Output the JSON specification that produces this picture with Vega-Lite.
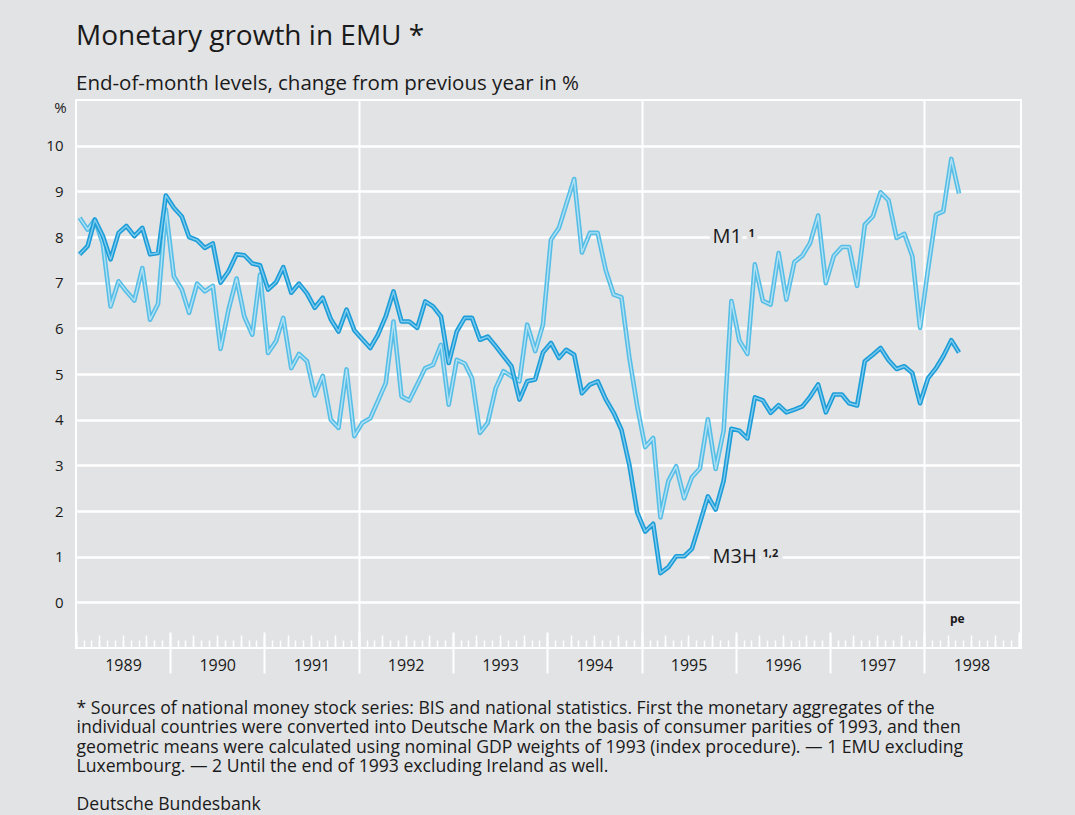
{
  "$schema": "https://vega.github.io/schema/vega-lite/v6.json",
  "autosize": "none",
  "width": 945,
  "height": 548,
  "padding": {"left": 76, "top": 100, "right": 54, "bottom": 167},
  "background": "#e2e3e5",
  "config": {
    "view": {"stroke": "white", "strokeWidth": 2},
    "font": "Open Sans"
  },
  "title": {
    "text": "Monetary growth in EMU *",
    "subtitle": "End-of-month levels, change from previous year in %",
    "anchor": "start",
    "frame": "group",
    "font": "Open Sans",
    "fontSize": 28,
    "fontWeight": "normal",
    "color": "#1a1a1a",
    "subtitleFont": "Open Sans",
    "subtitleFontSize": 20.5,
    "subtitleColor": "#1a1a1a",
    "subtitlePadding": 23,
    "offset": 6
  },
  "datasets": {
    "money": [
      {"date": "1989-01-15", "M1": 8.42, "M3H": 7.62},
      {"date": "1989-02-15", "M1": 8.16, "M3H": 7.8},
      {"date": "1989-03-15", "M1": 8.38, "M3H": 8.38},
      {"date": "1989-04-15", "M1": 7.85, "M3H": 8.02},
      {"date": "1989-05-15", "M1": 6.48, "M3H": 7.51},
      {"date": "1989-06-15", "M1": 7.03, "M3H": 8.09},
      {"date": "1989-07-15", "M1": 6.81, "M3H": 8.24},
      {"date": "1989-08-15", "M1": 6.61, "M3H": 8.02},
      {"date": "1989-09-15", "M1": 7.32, "M3H": 8.2},
      {"date": "1989-10-15", "M1": 6.19, "M3H": 7.62},
      {"date": "1989-11-15", "M1": 6.54, "M3H": 7.65},
      {"date": "1989-12-15", "M1": 8.6, "M3H": 8.91},
      {"date": "1990-01-15", "M1": 7.14, "M3H": 8.64},
      {"date": "1990-02-15", "M1": 6.85, "M3H": 8.45},
      {"date": "1990-03-15", "M1": 6.34, "M3H": 8.0},
      {"date": "1990-04-15", "M1": 6.98, "M3H": 7.93},
      {"date": "1990-05-15", "M1": 6.81, "M3H": 7.76},
      {"date": "1990-06-15", "M1": 6.93, "M3H": 7.86},
      {"date": "1990-07-15", "M1": 5.55, "M3H": 7.0},
      {"date": "1990-08-15", "M1": 6.41, "M3H": 7.25},
      {"date": "1990-09-15", "M1": 7.09, "M3H": 7.62},
      {"date": "1990-10-15", "M1": 6.26, "M3H": 7.6},
      {"date": "1990-11-15", "M1": 5.86, "M3H": 7.42},
      {"date": "1990-12-15", "M1": 7.18, "M3H": 7.38},
      {"date": "1991-01-15", "M1": 5.46, "M3H": 6.85},
      {"date": "1991-02-15", "M1": 5.72, "M3H": 7.01},
      {"date": "1991-03-15", "M1": 6.23, "M3H": 7.34},
      {"date": "1991-04-15", "M1": 5.13, "M3H": 6.78},
      {"date": "1991-05-15", "M1": 5.44, "M3H": 6.98},
      {"date": "1991-06-15", "M1": 5.28, "M3H": 6.76},
      {"date": "1991-07-15", "M1": 4.53, "M3H": 6.45},
      {"date": "1991-08-15", "M1": 4.96, "M3H": 6.67},
      {"date": "1991-09-15", "M1": 4.0, "M3H": 6.2},
      {"date": "1991-10-15", "M1": 3.82, "M3H": 5.93},
      {"date": "1991-11-15", "M1": 5.1, "M3H": 6.41},
      {"date": "1991-12-15", "M1": 3.64, "M3H": 5.96},
      {"date": "1992-01-15", "M1": 3.93, "M3H": 5.76},
      {"date": "1992-02-15", "M1": 4.03, "M3H": 5.57},
      {"date": "1992-03-15", "M1": 4.4, "M3H": 5.85},
      {"date": "1992-04-15", "M1": 4.8, "M3H": 6.26},
      {"date": "1992-05-15", "M1": 6.15, "M3H": 6.81},
      {"date": "1992-06-15", "M1": 4.51, "M3H": 6.15},
      {"date": "1992-07-15", "M1": 4.42, "M3H": 6.15},
      {"date": "1992-08-15", "M1": 4.77, "M3H": 6.01},
      {"date": "1992-09-15", "M1": 5.13, "M3H": 6.59},
      {"date": "1992-10-15", "M1": 5.2, "M3H": 6.48},
      {"date": "1992-11-15", "M1": 5.64, "M3H": 6.26},
      {"date": "1992-12-15", "M1": 4.33, "M3H": 5.24},
      {"date": "1993-01-15", "M1": 5.31, "M3H": 5.93},
      {"date": "1993-02-15", "M1": 5.23, "M3H": 6.23},
      {"date": "1993-03-15", "M1": 4.91, "M3H": 6.23},
      {"date": "1993-04-15", "M1": 3.71, "M3H": 5.75},
      {"date": "1993-05-15", "M1": 3.93, "M3H": 5.82},
      {"date": "1993-06-15", "M1": 4.69, "M3H": 5.61},
      {"date": "1993-07-15", "M1": 5.06, "M3H": 5.39},
      {"date": "1993-08-15", "M1": 4.95, "M3H": 5.17},
      {"date": "1993-09-15", "M1": 4.84, "M3H": 4.44},
      {"date": "1993-10-15", "M1": 6.08, "M3H": 4.84},
      {"date": "1993-11-15", "M1": 5.5, "M3H": 4.88},
      {"date": "1993-12-15", "M1": 6.08, "M3H": 5.47},
      {"date": "1994-01-15", "M1": 7.94, "M3H": 5.68},
      {"date": "1994-02-15", "M1": 8.2, "M3H": 5.35},
      {"date": "1994-03-15", "M1": 8.71, "M3H": 5.53},
      {"date": "1994-04-15", "M1": 9.27, "M3H": 5.42},
      {"date": "1994-05-15", "M1": 7.66, "M3H": 4.58},
      {"date": "1994-06-15", "M1": 8.09, "M3H": 4.77},
      {"date": "1994-07-15", "M1": 8.09, "M3H": 4.84},
      {"date": "1994-08-15", "M1": 7.28, "M3H": 4.45},
      {"date": "1994-09-15", "M1": 6.74, "M3H": 4.15},
      {"date": "1994-10-15", "M1": 6.68, "M3H": 3.78},
      {"date": "1994-11-15", "M1": 5.35, "M3H": 3.0},
      {"date": "1994-12-15", "M1": 4.3, "M3H": 1.97},
      {"date": "1995-01-15", "M1": 3.4, "M3H": 1.55},
      {"date": "1995-02-15", "M1": 3.6, "M3H": 1.72},
      {"date": "1995-03-15", "M1": 1.86, "M3H": 0.64},
      {"date": "1995-04-15", "M1": 2.66, "M3H": 0.77},
      {"date": "1995-05-15", "M1": 2.98, "M3H": 1.01},
      {"date": "1995-06-15", "M1": 2.28, "M3H": 1.01},
      {"date": "1995-07-15", "M1": 2.74, "M3H": 1.17},
      {"date": "1995-08-15", "M1": 2.93, "M3H": 1.74},
      {"date": "1995-09-15", "M1": 4.01, "M3H": 2.32},
      {"date": "1995-10-15", "M1": 2.92, "M3H": 2.03},
      {"date": "1995-11-15", "M1": 3.76, "M3H": 2.66},
      {"date": "1995-12-15", "M1": 6.6, "M3H": 3.8},
      {"date": "1996-01-15", "M1": 5.73, "M3H": 3.76},
      {"date": "1996-02-15", "M1": 5.44, "M3H": 3.59},
      {"date": "1996-03-15", "M1": 7.4, "M3H": 4.49},
      {"date": "1996-04-15", "M1": 6.6, "M3H": 4.42},
      {"date": "1996-05-15", "M1": 6.52, "M3H": 4.15},
      {"date": "1996-06-15", "M1": 7.65, "M3H": 4.32},
      {"date": "1996-07-15", "M1": 6.63, "M3H": 4.16},
      {"date": "1996-08-15", "M1": 7.45, "M3H": 4.22},
      {"date": "1996-09-15", "M1": 7.59, "M3H": 4.29},
      {"date": "1996-10-15", "M1": 7.87, "M3H": 4.5},
      {"date": "1996-11-15", "M1": 8.47, "M3H": 4.77},
      {"date": "1996-12-15", "M1": 6.99, "M3H": 4.16},
      {"date": "1997-01-15", "M1": 7.59, "M3H": 4.55},
      {"date": "1997-02-15", "M1": 7.78, "M3H": 4.55},
      {"date": "1997-03-15", "M1": 7.78, "M3H": 4.36},
      {"date": "1997-04-15", "M1": 6.93, "M3H": 4.31},
      {"date": "1997-05-15", "M1": 8.27, "M3H": 5.28},
      {"date": "1997-06-15", "M1": 8.45, "M3H": 5.42},
      {"date": "1997-07-15", "M1": 8.98, "M3H": 5.57},
      {"date": "1997-08-15", "M1": 8.8, "M3H": 5.3},
      {"date": "1997-09-15", "M1": 7.98, "M3H": 5.11},
      {"date": "1997-10-15", "M1": 8.07, "M3H": 5.17},
      {"date": "1997-11-15", "M1": 7.58, "M3H": 5.02},
      {"date": "1997-12-15", "M1": 6.01, "M3H": 4.36},
      {"date": "1998-01-15", "M1": 7.3, "M3H": 4.91},
      {"date": "1998-02-15", "M1": 8.49, "M3H": 5.13},
      {"date": "1998-03-15", "M1": 8.56, "M3H": 5.39},
      {"date": "1998-04-15", "M1": 9.71, "M3H": 5.74},
      {"date": "1998-05-15", "M1": 8.95, "M3H": 5.47}
    ],
    "labels": [
      {"date": "1995-10-03", "value": 8, "name": "M1", "note": "1"},
      {"date": "1995-10-03", "value": 1, "name": "M3H", "note": "1,2"}
    ],
    "marker": [
      {"date": "1998-05-08", "value": -0.37, "name": "pe"}
    ]
  },
  "resolve": {"axis": {"x": "independent"}},
  "encoding": {
    "x": {
      "field": "date", "type": "temporal",
      "scale": {"type": "utc", "domain": [{"year": 1989, "month": 1, "date": 1, "utc": true}, {"year": 1999, "month": 1, "date": 10, "utc": true}]},
      "axis": null
    },
    "y": {
      "field": "value", "type": "quantitative",
      "scale": {"domain": [-1, 11], "nice": false, "zero": false},
      "axis": {
        "values": [0, 1, 2, 3, 4, 5, 6, 7, 8, 9, 10],
        "grid": true, "gridColor": "white", "gridWidth": 2.5,
        "ticks": false, "domain": false,
        "labelFont": "Open Sans", "labelFontSize": 15, "labelColor": "#1a1a1a", "labelPadding": 13,
        "title": "%", "titleAngle": 0, "titleX": -16, "titleY": 7,
        "titleAlign": "center", "titleBaseline": "middle",
        "titleFont": "Open Sans", "titleFontSize": 15, "titleFontWeight": "normal", "titleColor": "#1a1a1a"
      }
    }
  },
  "layer": [
    {
      "data": {"name": "money"},
      "transform": [{"fold": ["M1", "M3H"], "as": ["series", "value"]}, {"filter": "datum.series == 'M1'"}],
      "mark": {"type": "line", "color": "#56bee6", "strokeWidth": 4.6, "strokeJoin": "round"},
      "encoding": {
        "x": {
          "field": "date", "type": "temporal",
          "scale": {"type": "utc", "domain": [{"year": 1989, "month": 1, "date": 1, "utc": true}, {"year": 1999, "month": 1, "date": 10, "utc": true}]},
          "axis": {
            "orient": "bottom",
            "values": [
              {"year": 1989, "month": 1, "date": 1, "utc": true},
              {"year": 1990, "month": 1, "date": 1, "utc": true},
              {"year": 1991, "month": 1, "date": 1, "utc": true},
              {"year": 1992, "month": 1, "date": 1, "utc": true},
              {"year": 1993, "month": 1, "date": 1, "utc": true},
              {"year": 1994, "month": 1, "date": 1, "utc": true},
              {"year": 1995, "month": 1, "date": 1, "utc": true},
              {"year": 1996, "month": 1, "date": 1, "utc": true},
              {"year": 1997, "month": 1, "date": 1, "utc": true},
              {"year": 1998, "month": 1, "date": 1, "utc": true}
            ],
            "labelExpr": "utcFormat(datum.value, '%Y')",
            "labelOffset": 47, "labelFont": "Open Sans", "labelFontSize": 16, "labelColor": "#1a1a1a",
            "labelBaseline": "middle", "labelPadding": -8, "labelOverlap": false, "labelBound": false, "labelFlush": false,
            "ticks": true, "tickSize": 25, "tickWidth": 2, "tickColor": "white",
            "tickOpacity": {"condition": {"test": "utcyear(datum.value) == 1989", "value": 0}, "value": 1},
            "grid": true, "gridColor": "white", "gridWidth": 2,
            "gridOpacity": {"condition": {"test": "indexof([1992, 1995, 1998], utcyear(datum.value)) >= 0", "value": 1}, "value": 0},
            "domain": false,
            "title": [
              "* Sources of national money stock series: BIS and national statistics. First the monetary aggregates of the",
              "individual countries were converted into Deutsche Mark on the basis of consumer parities of 1993, and then",
              "geometric means were calculated using nominal GDP weights of 1993 (index procedure). — 1 EMU excluding",
              "Luxembourg. — 2 Until the end of 1993 excluding Ireland as well."
            ],
            "titleX": 0, "titleY": 65, "titleAlign": "left", "titleAnchor": "start", "titleBaseline": "alphabetic",
            "titleFont": "Open Sans", "titleFontSize": 17.6, "titleFontWeight": "normal", "titleColor": "#1a1a1a", "titleLineHeight": 19.6
          }
        }
      }
    },
    {
      "data": {"name": "money"},
      "transform": [{"fold": ["M1", "M3H"], "as": ["series", "value"]}, {"filter": "datum.series == 'M1'"}],
      "mark": {"type": "line", "color": "#b3e1f4", "strokeWidth": 1.4, "strokeJoin": "round"},
      "encoding": {
        "x": {
          "field": "date", "type": "temporal",
          "scale": {"type": "utc", "domain": [{"year": 1989, "month": 1, "date": 1, "utc": true}, {"year": 1999, "month": 1, "date": 10, "utc": true}]},
          "axis": {
            "orient": "bottom",
            "tickCount": {"interval": "month", "step": 1},
            "labels": false, "domain": false, "grid": false,
            "ticks": true, "tickSize": -8, "tickWidth": 1.5, "tickColor": "white",
            "title": "Deutsche Bundesbank",
            "titleX": 0, "titleY": 161, "titleAlign": "left", "titleAnchor": "start", "titleBaseline": "alphabetic",
            "titleFont": "Open Sans", "titleFontSize": 17.6, "titleFontWeight": "normal", "titleColor": "#1a1a1a"
          }
        }
      }
    },
    {
      "data": {"name": "money"},
      "transform": [{"fold": ["M1", "M3H"], "as": ["series", "value"]}, {"filter": "datum.series == 'M3H'"}],
      "mark": {"type": "line", "color": "#1d9dd8", "strokeWidth": 4.6, "strokeJoin": "round"},
      "encoding": {
        "x": {
          "field": "date", "type": "temporal",
          "scale": {"type": "utc", "domain": [{"year": 1989, "month": 1, "date": 1, "utc": true}, {"year": 1999, "month": 1, "date": 10, "utc": true}]},
          "axis": {
            "orient": "bottom",
            "tickCount": {"interval": "month", "step": 3},
            "labels": false, "domain": false, "grid": false,
            "ticks": true, "tickSize": -13, "tickWidth": 1.5, "tickColor": "white",
            "title": null
          }
        }
      }
    },
    {
      "data": {"name": "money"},
      "transform": [{"fold": ["M1", "M3H"], "as": ["series", "value"]}, {"filter": "datum.series == 'M3H'"}],
      "mark": {"type": "line", "color": "#7fcbee", "strokeWidth": 1.4, "strokeJoin": "round"},
      "encoding": {
        "x": {
          "field": "date", "type": "temporal",
          "scale": {"type": "utc", "domain": [{"year": 1989, "month": 1, "date": 1, "utc": true}, {"year": 1999, "month": 1, "date": 10, "utc": true}]},
          "axis": {
            "orient": "bottom",
            "tickCount": {"interval": "year", "step": 1},
            "labels": false, "domain": false, "grid": false,
            "ticks": true, "tickSize": -16, "tickWidth": 2, "tickColor": "white",
            "title": null
          }
        }
      }
    },
    {
      "data": {"name": "labels"},
      "mark": {"type": "text", "align": "left", "baseline": "middle", "font": "Open Sans", "fontSize": 20, "fill": "#e2e3e5", "stroke": "#e2e3e5", "strokeWidth": 9, "strokeJoin": "round"},
      "encoding": {"text": {"field": "name"}}
    },
    {
      "data": {"name": "labels"},
      "mark": {"type": "text", "align": "left", "baseline": "middle", "font": "Open Sans", "fontSize": 20, "color": "#1a1a1a"},
      "encoding": {"text": {"field": "name"}}
    },
    {
      "data": {"name": "labels"},
      "transform": [{"filter": "datum.name == 'M1'"}],
      "mark": {"type": "text", "align": "left", "baseline": "alphabetic", "dx": 36, "font": "Open Sans", "fontSize": 11, "fontWeight": "bold", "fill": "#e2e3e5", "stroke": "#e2e3e5", "strokeWidth": 9, "strokeJoin": "round"},
      "encoding": {"text": {"field": "note"}}
    },
    {
      "data": {"name": "labels"},
      "transform": [{"filter": "datum.name == 'M1'"}],
      "mark": {"type": "text", "align": "left", "baseline": "alphabetic", "dx": 36, "font": "Open Sans", "fontSize": 11, "fontWeight": "bold", "color": "#1a1a1a"},
      "encoding": {"text": {"field": "note"}}
    },
    {
      "data": {"name": "labels"},
      "transform": [{"filter": "datum.name == 'M3H'"}],
      "mark": {"type": "text", "align": "left", "baseline": "alphabetic", "dx": 50, "font": "Open Sans", "fontSize": 11, "fontWeight": "bold", "fill": "#e2e3e5", "stroke": "#e2e3e5", "strokeWidth": 9, "strokeJoin": "round"},
      "encoding": {"text": {"field": "note"}}
    },
    {
      "data": {"name": "labels"},
      "transform": [{"filter": "datum.name == 'M3H'"}],
      "mark": {"type": "text", "align": "left", "baseline": "alphabetic", "dx": 50, "font": "Open Sans", "fontSize": 11, "fontWeight": "bold", "color": "#1a1a1a"},
      "encoding": {"text": {"field": "note"}}
    },
    {
      "data": {"name": "marker"},
      "mark": {"type": "text", "align": "center", "baseline": "middle", "font": "Open Sans", "fontSize": 12, "fontWeight": "bold", "color": "#1a1a1a"},
      "encoding": {"text": {"field": "name"}}
    }
  ]
}
